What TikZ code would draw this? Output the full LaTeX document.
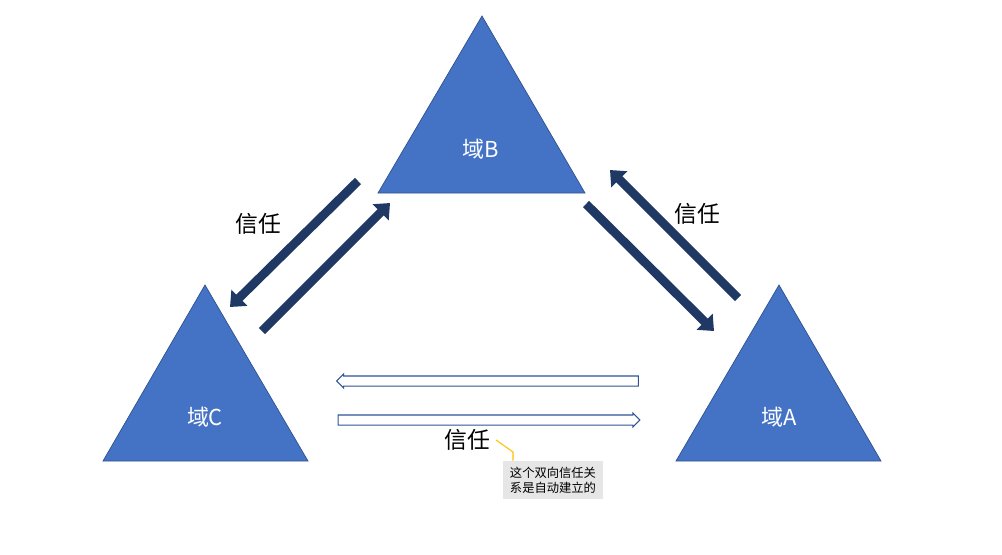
\documentclass[tikz,border=0pt]{standalone}
\usepackage{fontspec}
\setmainfont{Noto Sans CJK SC}
\usepackage{xcolor}
\usetikzlibrary{shapes.arrows, arrows.meta, positioning}

\definecolor{domainblue}{HTML}{4472C4}
\definecolor{domainedge}{HTML}{2F528F}
\definecolor{trustnavy}{HTML}{203864}
\definecolor{linkblue}{HTML}{2F5597}
\definecolor{notegray}{HTML}{E7E6E6}
\definecolor{noteline}{HTML}{FFC000}

\begin{document}
\begin{tikzpicture}[x=0.02cm, y=-0.02cm,
        domainshape/.style={fill=domainblue, draw=domainedge, line width=0.4pt},
        domainlabel/.style={text=white, font=\fontsize{12.5}{14}\selectfont},
        trust/.style={draw=trustnavy, line width=5pt, -{Triangle[length=7.5pt, width=12.5pt]}},
        trustlabel/.style={font=\fontsize{13}{15}\selectfont},
        hollow/.style={single arrow, draw=linkblue, fill=white, line width=0.6pt, inner xsep=0pt, inner ysep=0.09cm,
            minimum height=6.04cm, single arrow head extend=0.04cm, single arrow head indent=0pt}]
        \useasboundingbox (0,0) rectangle (1002,555);

        % domains
        \draw [domainshape] (482,16) -- (585,193) -- (378,193) -- cycle;
        \draw [domainshape] (205,285) -- (308,461) -- (103,461) -- cycle;
        \draw [domainshape] (779,285) -- (881,461) -- (676,461) -- cycle;
        \node (domB) [domainlabel] at (481,149) {域B};
        \node (domC) [domainlabel] at (205,417) {域C};
        \node (domA) [domainlabel] at (779,417) {域A};

        % trust between B and C
        \coordinate (bcFrom) at (358,181);
        \coordinate (bcTo) at (230,307);
        \coordinate (cbFrom) at (262,331);
        \coordinate (cbTo) at (390,203);
        \draw [trust] (bcFrom) -- (bcTo);
        \draw [trust] (cbFrom) -- (cbTo);
        \node (lblBC) [trustlabel] at (258,224) {信任};

        % trust between B and A
        \coordinate (baFrom) at (586,204);
        \coordinate (baTo) at (714,331);
        \coordinate (abFrom) at (738,298);
        \coordinate (abTo) at (610,170);
        \draw [trust] (baFrom) -- (baTo);
        \draw [trust] (abFrom) -- (abTo);
        \node (lblAB) [trustlabel] at (697,214) {信任};

        % trust between A and C
        \node (toC) [hollow, shape border rotate=180] at (490,381) {};
        \node (toA) [hollow] at (486.5,420) {};
        \node (lblAC) [trustlabel] at (467,440) {信任};

        % note
        \node (note) [fill=notegray, minimum width=2.02cm, minimum height=0.76cm, align=left,
            font=\fontsize{7}{8.5}\selectfont] at (553,480) {这个双向信任关\\系是自动建立的};
        \coordinate (bend) at (513,452);
        \draw [noteline, line width=0.6pt] (lblAC.east) -- (bend) -- (bend |- note.north);
    \end{tikzpicture}
\end{document}
